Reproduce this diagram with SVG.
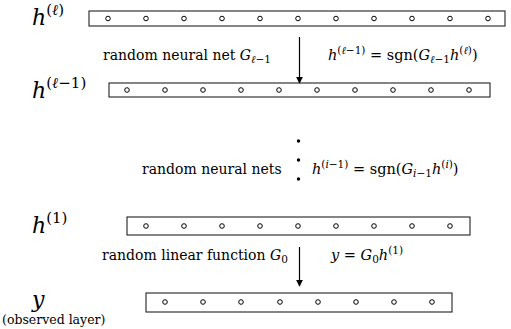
<svg xmlns="http://www.w3.org/2000/svg" width="511" height="329" viewBox="0 0 511 329">
<style>
.box{fill:#fff;stroke:#222;stroke-width:1.1}
.u{fill:#fff;stroke:#000;stroke-width:1}
.t{font-family:"DejaVu Serif","Liberation Serif",serif;fill:#000}
.lab{font-size:22px}
.mid{font-size:14px}
.eq{font-size:14.5px}
.s{font-size:10.5px}
.i{font-style:italic}
.conn{stroke:#000;stroke-width:1.2;fill:none}
</style>
<defs>
<marker id="ah" viewBox="0 0 10 10" refX="9" refY="5" markerWidth="7" markerHeight="7" markerUnits="userSpaceOnUse" orient="auto"><path d="M0,0 L10,5 L0,10 z" fill="#000"/></marker>
<circle id="c" r="2.3" class="u"/>
</defs>
<rect width="511" height="329" fill="#fff"/>

<g id="layer-l">
<rect class="box" x="89" y="11" width="416" height="15"/>
<use href="#c" x="108" y="18.5"/><use href="#c" x="146" y="18.5"/><use href="#c" x="184" y="18.5"/><use href="#c" x="222" y="18.5"/><use href="#c" x="260" y="18.5"/><use href="#c" x="298" y="18.5"/><use href="#c" x="336" y="18.5"/><use href="#c" x="374" y="18.5"/><use href="#c" x="412" y="18.5"/><use href="#c" x="450" y="18.5"/><use href="#c" x="488" y="18.5"/>
<text class="t lab" x="32" y="25"><tspan class="i">h</tspan><tspan font-size="15" dy="-10">(<tspan class="i">ℓ</tspan>)</tspan></text>
</g>

<g id="layer-l1">
<rect class="box" x="109" y="83" width="381" height="14"/>
<use href="#c" x="127" y="90"/><use href="#c" x="165" y="90"/><use href="#c" x="203" y="90"/><use href="#c" x="241" y="90"/><use href="#c" x="279" y="90"/><use href="#c" x="317" y="90"/><use href="#c" x="355" y="90"/><use href="#c" x="393" y="90"/><use href="#c" x="431" y="90"/><use href="#c" x="469" y="90"/>
<text class="t lab" x="32" y="98"><tspan class="i">h</tspan><tspan font-size="15" dy="-10">(<tspan class="i">ℓ</tspan>−1)</tspan></text>
</g>

<g id="layer-1">
<rect class="box" x="127" y="217" width="343" height="18"/>
<use href="#c" x="146" y="226"/><use href="#c" x="184" y="226"/><use href="#c" x="222" y="226"/><use href="#c" x="260" y="226"/><use href="#c" x="298" y="226"/><use href="#c" x="336" y="226"/><use href="#c" x="374" y="226"/><use href="#c" x="412" y="226"/><use href="#c" x="450" y="226"/>
<text class="t lab" x="32" y="233"><tspan class="i">h</tspan><tspan font-size="15" dy="-10">(1)</tspan></text>
</g>

<g id="layer-y">
<rect class="box" x="146" y="293" width="306" height="19"/>
<use href="#c" x="165" y="302"/><use href="#c" x="203" y="302"/><use href="#c" x="241" y="302"/><use href="#c" x="280" y="302"/><use href="#c" x="318" y="302"/><use href="#c" x="356" y="302"/><use href="#c" x="394" y="302"/><use href="#c" x="432" y="302"/>
<text class="t lab i" x="32" y="307">y</text>
<text class="t" font-size="12.5" x="2" y="324">(observed layer)</text>
</g>

<g id="connectors">
<line class="conn" x1="299.5" y1="37" x2="299.5" y2="83" marker-end="url(#ah)"/>
<line class="conn" x1="299.5" y1="247" x2="299.5" y2="286" marker-end="url(#ah)"/>
<circle cx="298.5" cy="141" r="1.7" fill="#000"/>
<circle cx="298.5" cy="160" r="1.7" fill="#000"/>
<circle cx="298.5" cy="179" r="1.7" fill="#000"/>
</g>

<g id="labels">
<text class="t mid" x="103" y="60">random neural net <tspan class="i">G</tspan><tspan class="s" dy="3"><tspan class="i">ℓ</tspan>−1</tspan></text>
<text class="t eq" x="328" y="60"><tspan class="i">h</tspan><tspan class="s" dy="-6">(<tspan class="i">ℓ</tspan>−1)</tspan><tspan dy="6"> = sgn(</tspan><tspan class="i">G</tspan><tspan class="s" dy="3"><tspan class="i">ℓ</tspan>−1</tspan><tspan class="i" dy="-3">h</tspan><tspan class="s" dy="-6">(<tspan class="i">ℓ</tspan>)</tspan><tspan dy="6">)</tspan></text>
<text class="t mid" x="142" y="174">random neural nets</text>
<text class="t eq" x="312" y="174"><tspan class="i">h</tspan><tspan class="s" dy="-6">(<tspan class="i">i</tspan>−1)</tspan><tspan dy="6"> = sgn(</tspan><tspan class="i">G</tspan><tspan class="s" dy="3"><tspan class="i">i</tspan>−1</tspan><tspan class="i" dy="-3">h</tspan><tspan class="s" dy="-6">(<tspan class="i">i</tspan>)</tspan><tspan dy="6">)</tspan></text>
<text class="t mid" x="102" y="260">random linear function <tspan class="i">G</tspan><tspan class="s" dy="3">0</tspan></text>
<text class="t eq" x="331" y="260"><tspan class="i">y</tspan> = <tspan class="i">G</tspan><tspan class="s" dy="3">0</tspan><tspan class="i" dy="-3">h</tspan><tspan class="s" dy="-6">(1)</tspan></text>
</g>
</svg>
